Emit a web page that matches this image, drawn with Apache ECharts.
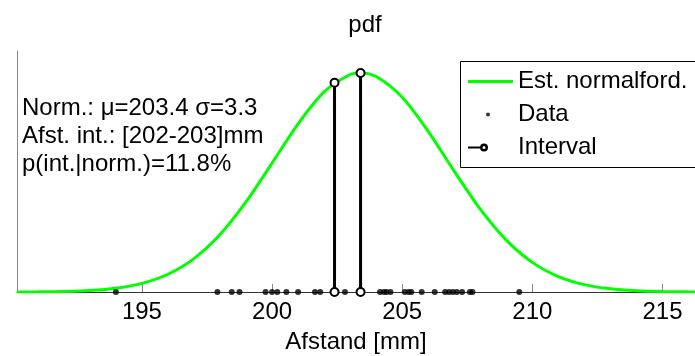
<!DOCTYPE html>
<html>
<head>
<meta charset="utf-8">
<script src="https://cdn.jsdelivr.net/npm/echarts@6/dist/echarts.min.js"></script>
<style>
  html, body { margin: 0; padding: 0; background: #fff; }
  #chart { width: 695px; height: 356px; }
</style>
</head>
<body>
<div id="chart"></div>
<script>
// fitted normal curve
var curveX = [190.2, 191, 192, 193, 194, 195, 196, 197, 198, 199, 200, 201, 202, 203, 203.4,
              204, 205, 206, 207, 208, 209, 210, 211, 212, 213, 214, 215, 216, 216.6];
var curveY = [0.00004, 0.00010, 0.00031, 0.00084, 0.00209, 0.00474, 0.00979, 0.01844, 0.03170,
              0.04970, 0.07111, 0.09280, 0.11048, 0.12001, 0.12089, 0.11891, 0.10749, 0.08864,
              0.06667, 0.04575, 0.02865, 0.01636, 0.00852, 0.00405, 0.00176, 0.00070, 0.00025,
              0.00008, 0.00004];

// measurements (dots on the baseline)
var dataX = [194.0, 197.9, 198.45, 198.75, 199.75, 200.0, 200.2, 200.55, 201.0, 201.65, 201.85,
             202.8, 204.15, 204.3, 204.4, 204.55, 205.1, 205.25, 205.35, 205.75, 206.25, 206.65,
             206.8, 206.95, 207.1, 207.3, 207.6, 207.7, 209.5];

// interval stems
var intervalX = [202.4, 203.4];
var intervalTop = [0.1155, 0.1209];

var xTicks = [195, 200, 205, 210, 215];
var xMin = 190.2, xMax = 216.25, yMax = 0.133;

var mu = '203.4', sigma = '3.3', intLabel = '[202-203]mm', pInt = '11.8%';

var font = 'Liberation Sans, Arial, sans-serif';

var legendBox = 'path://M0,0 L0,0 M45,14 L45,14 ';
var iconCurve = legendBox + 'M0,6 L45,6 L45,9 L0,9 Z';
var iconData = legendBox + 'M22,7.5 A2,2 0 1,1 18,7.5 A2,2 0 1,1 22,7.5 Z';
var iconInterval = legendBox + 'M0,6.5 L12,6.5 L12,8.5 L0,8.5 Z ' +
  'M20,7.5 A4,4 0 1,1 12,7.5 A4,4 0 1,1 20,7.5 Z M17.5,7.5 A1.5,1.5 0 1,0 14.5,7.5 A1.5,1.5 0 1,0 17.5,7.5 Z';

var chart = echarts.init(document.getElementById('chart'));

var stems = intervalX.map(function (x, i) {
  return {
    name: 'Interval',
    type: 'line',
    data: [[x, 0], [x, intervalTop[i]]],
    symbol: 'emptyCircle',
    symbolSize: 8,
    showAllSymbol: true,
    lineStyle: { color: '#000', width: 3 },
    itemStyle: { color: '#000', borderColor: '#000', borderWidth: 3 },
    z: 5
  };
});

var option = {
  backgroundColor: '#fff',
  animation: false,
  textStyle: { fontFamily: font },
  title: [
    {
      text: 'pdf',
      left: 360,
      textAlign: 'center',
      top: 8,
      textStyle: { fontSize: 24, fontWeight: 'normal', color: '#000', fontFamily: font }
    },
    {
      text: 'Norm.: \u03bc=' + mu + ' \u03c3=' + sigma + '\nAfst. int.: ' + intLabel +
            '\np(int.|norm.)=' + pInt,
      left: 17,
      top: 89,
      textStyle: { fontSize: 24, fontWeight: 'normal', color: '#000', lineHeight: 28, fontFamily: font }
    }
  ],
  // legend frame runs past the right edge, as in the cropped original
  graphic: [{
    type: 'rect',
    shape: { x: 460.5, y: 61.5, width: 300, height: 106 },
    style: { fill: '#fff', stroke: '#000', lineWidth: 1 },
    z: 10
  }],
  legend: {
    orient: 'vertical',
    left: 460,
    top: 61,
    padding: [8, 8, 8, 8],
    itemGap: 9,
    itemWidth: 45,
    itemHeight: 14,
    selectedMode: false,
    z: 11,
    textStyle: { fontSize: 24, color: '#000', fontFamily: font },
    data: [
      { name: 'Est. normalford.', icon: iconCurve, itemStyle: { color: '#00ff00', borderWidth: 0 } },
      { name: 'Data', icon: iconData, itemStyle: { color: '#000', borderWidth: 0 } },
      { name: 'Interval', icon: iconInterval, itemStyle: { color: '#000', borderWidth: 0 } }
    ]
  },
  grid: { left: 17, right: 0, top: 51, bottom: 64, outerBoundsMode: 'none' },
  xAxis: {
    type: 'value',
    min: xMin,
    max: xMax,
    name: 'Afstand [mm]',
    nameLocation: 'middle',
    nameGap: 38,
    nameTextStyle: { fontSize: 24, color: '#000', fontFamily: font },
    axisLine: { lineStyle: { color: '#333', width: 1 } },
    axisTick: { show: true, inside: true, length: 8, customValues: xTicks, lineStyle: { color: '#888' } },
    axisLabel: { customValues: xTicks, fontSize: 24, color: '#000', margin: 8, fontFamily: font },
    splitLine: { show: false }
  },
  yAxis: {
    type: 'value',
    min: 0,
    max: yMax,
    axisLine: { show: true, lineStyle: { color: '#888', width: 1 } },
    axisTick: { show: false },
    axisLabel: { show: false },
    splitLine: { show: false }
  },
  series: [
    {
      name: 'Est. normalford.',
      type: 'line',
      data: curveX.map(function (x, i) { return [x, curveY[i]]; }),
      smooth: 0.3,
      symbol: 'none',
      lineStyle: { color: '#00ff00', width: 3 },
      itemStyle: { color: '#00ff00' },
      z: 3
    },
    {
      name: 'Data',
      type: 'scatter',
      data: dataX.map(function (x) { return [x, 0]; }),
      symbol: 'circle',
      symbolSize: 6,
      itemStyle: { color: '#000' },
      z: 4
    }
  ].concat(stems)
};

chart.setOption(option);
</script>
</body>
</html>
